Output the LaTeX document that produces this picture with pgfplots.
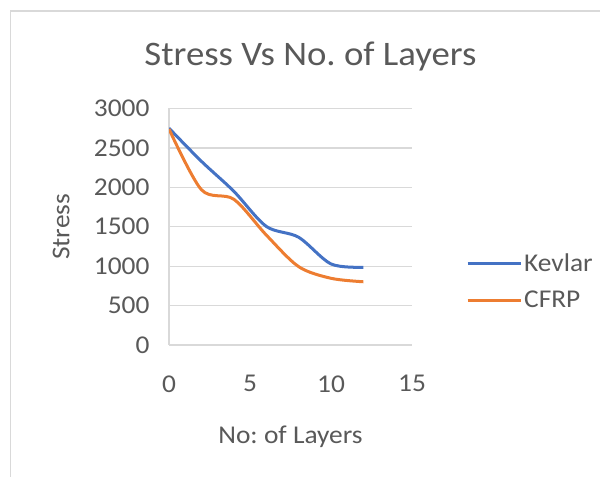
\documentclass[border=0pt]{standalone}
\usepackage{pgfplots}
\pgfplotsset{compat=1.18}
\usepackage{fontspec}
\setmainfont{Carlito}[FakeStretch=1.07]
\frenchspacing
\definecolor{kev}{HTML}{4472C4}
\definecolor{cfrp}{HTML}{ED7D31}
\definecolor{txt}{HTML}{595959}
\definecolor{grd}{HTML}{D9D9D9}
\begin{document}
\begin{tikzpicture}[x=1bp,y=1bp]
\path[use as bounding box] (0,0) rectangle (600,477);
% chart area frame
\draw[grd, line width=1.5bp] (10.5,0) -- (10.5,466) -- (600,466);
% chart title
\node[anchor=base, text=txt, font=\fontsize{34.5}{40}\selectfont] at (310.5,411) {Stress Vs No. of Layers};
\begin{axis}[
  at={(169bp,132bp)}, anchor=south west,
  width=243bp, height=236.5bp, scale only axis,
  xmin=0, xmax=15, ymin=0, ymax=3000,
  xtick={0,5,10,15}, ytick={0,500,...,3000},
  ymajorgrids, grid style={grd, line width=1.2bp},
  axis lines=left, axis line style={grd, line width=1.5bp, -},
  major tick length=0pt,
  /pgf/number format/assume math mode=true,
  /pgf/number format/1000 sep={},
  tick label style={text=txt, font=\fontsize{25.7}{30}\selectfont},
  yticklabel style={xshift=-16bp},
  xticklabel style={yshift=-27bp},
  xlabel={No: of Layers}, ylabel={Stress},
  label style={text=txt, font=\fontsize{25.7}{30}\selectfont},
  xlabel style={at={(axis description cs:0.5,-0.389)}, anchor=center},
  ylabel style={at={(axis description cs:-0.444,0.5)}, anchor=center},
  legend image code/.code={\draw[#1] (0bp,0bp) -- (53bp,0bp);},
  legend style={draw=none, fill=none, inner sep=0pt,
    at={(axis description cs:1.222,0.2685)}, anchor=west,
    font=\fontsize{25.7}{30}\selectfont, text=txt,
    row sep=14bp, cells={anchor=west}},
  legend cell align=left,
  every axis plot/.append style={line width=3bp, smooth},
]
\addplot[kev] coordinates {(0,2750) (2,2330) (4,1950) (6,1505) (8,1367) (10,1028) (12,986)};
\addlegendentry{Kevlar}
\addplot[cfrp] coordinates {(0,2740) (2,1970) (4,1849) (6,1396) (8,994) (10,846) (12,802)};
\addlegendentry{CFRP}
\end{axis}
\end{tikzpicture}
\end{document}
